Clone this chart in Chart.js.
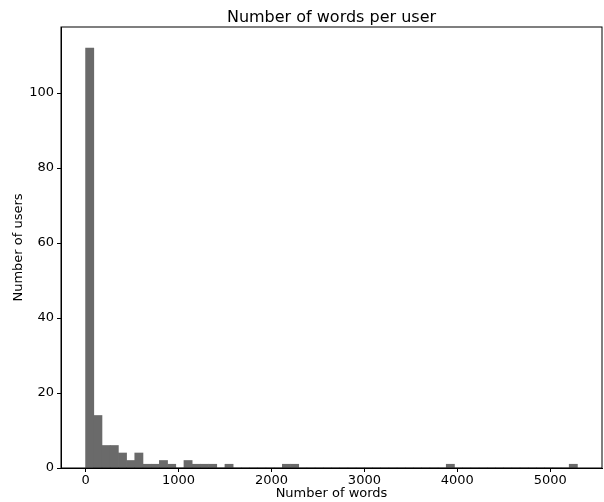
<!DOCTYPE html>
<html>
<head>
<meta charset="utf-8">
<script src="https://cdn.jsdelivr.net/npm/chart.js@4/dist/chart.umd.min.js"></script>
<style>
  body { margin: 0; background: #fff; }
  #wrap { width: 604px; height: 502px; position: relative; }
</style>
</head>
<body>
<div id="wrap"><canvas id="myChart"></canvas></div>
<script>
// --- Données de l'histogramme (60 classes) ---
const binStart = 0;
const binWidth = 88.2;
const userCounts = [
    112, 14, 6, 6, 4, 2, 4, 1, 1, 2,
    1, 0, 2, 1, 1, 1, 0, 1, 0, 0,
    0, 0, 0, 0, 1, 1, 0, 0, 0, 0,
    0, 0, 0, 0, 0, 0, 0, 0, 0, 0,
    0, 0, 0, 0, 1, 0, 0, 0, 0, 0,
    0, 0, 0, 0, 0, 0, 0, 0, 0, 1
];
const xTicks = [0, 1000, 2000, 3000, 4000, 5000];
const yTicks = [0, 20, 40, 60, 80, 100];

const chartTitle = 'Number of words per user';
const xLabel = 'Number of words';
const yLabel = 'Number of users';

// --- Bornes des axes (marge de 5 %) ---
const xMaxData = binStart + binWidth * userCounts.length;
const xPad = (xMaxData - binStart) * 0.05;
const yMax = Math.max(...userCounts) * 1.05;

const FONT = "'DejaVu Sans', sans-serif";
Chart.defaults.color = '#000';
Chart.defaults.font.family = FONT;

// Titre centré sur la zone du graphique + cadre complet
const framePlugin = {
    id: 'frame',
    afterDraw(chart) {
        const { ctx, chartArea: a } = chart;
        ctx.save();
        ctx.strokeStyle = '#000';
        ctx.lineWidth = 1;
        ctx.strokeRect(a.left, a.top, a.right - a.left, a.bottom - a.top);
        ctx.font = '16px ' + FONT;
        ctx.fillStyle = '#000';
        ctx.textAlign = 'center';
        ctx.textBaseline = 'alphabetic';
        ctx.fillText(chartTitle, (a.left + a.right) / 2, 22);
        ctx.restore();
    }
};

const ctx = document.getElementById('myChart').getContext('2d');
new Chart(ctx, {
    type: 'bar',
    data: {
        datasets: [{
            data: userCounts.map((c, i) => ({ x: binStart + (i + 0.5) * binWidth, y: c })),
            backgroundColor: '#6a6a6a',
            borderWidth: 0,
            barPercentage: 1,
            categoryPercentage: 1
        }]
    },
    options: {
        responsive: true,
        maintainAspectRatio: false,
        animation: false,
        layout: { padding: { top: 27, right: 2, left: 0, bottom: 0 } },
        plugins: {
            legend: { display: false },
            tooltip: { enabled: false }
        },
        scales: {
            x: {
                type: 'linear',
                offset: false,
                min: binStart - xPad,
                max: xMaxData + xPad,
                afterFit: s => { s.height = 34; },
                afterBuildTicks: s => { s.ticks = xTicks.map(v => ({ value: v })); },
                ticks: { autoSkip: false, maxRotation: 0, padding: 1, font: { size: 13 }, callback: v => String(v) },
                grid: { offset: false, drawOnChartArea: false, drawTicks: true, tickLength: 4, color: '#000' },
                border: { display: true, color: '#000', width: 1 },
                title: { display: true, text: xLabel, font: { size: 13 }, padding: { top: 0, bottom: 1 } }
            },
            y: {
                min: 0,
                max: yMax,
                afterFit: s => { s.width = 61; },
                afterBuildTicks: s => { s.ticks = yTicks.map(v => ({ value: v })); },
                ticks: { autoSkip: false, padding: 3, font: { size: 13 }, callback: v => String(v) },
                grid: { drawOnChartArea: false, drawTicks: true, tickLength: 4, color: '#000' },
                border: { display: true, color: '#000', width: 1 },
                title: { display: true, text: yLabel, font: { size: 13 }, padding: { top: 11, bottom: 0 } }
            }
        }
    },
    plugins: [framePlugin]
});
</script>
</body>
</html>
